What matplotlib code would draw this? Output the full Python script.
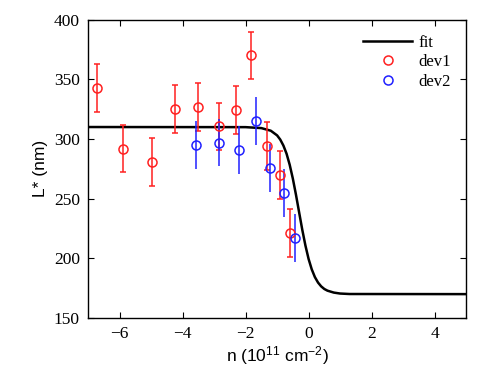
import matplotlib
matplotlib.use("Agg")
import matplotlib.pyplot as plt

plt.rcParams["font.family"] = ["Liberation Serif", "DejaVu Serif"]
plt.rcParams["mathtext.fontset"] = "custom"
plt.rcParams["mathtext.rm"] = "Liberation Sans"
plt.rcParams["mathtext.it"] = "Liberation Sans:italic"

# Fit curve
fit_n = [-7.0, -2.0, -1.5, -1.2, -1.0, -0.9, -0.8, -0.7, -0.6, -0.5, -0.4, -0.3,
         -0.2, -0.1, 0.0, 0.1, 0.2, 0.3, 0.4, 0.5, 0.6, 0.8, 1.0, 1.3, 5.0]
fit_L = [310.0, 309.9, 309.1, 306.9, 303.0, 299.5, 294.5, 287.7, 278.4, 266.8, 253.2, 238.5,
         223.9, 210.7, 199.5, 190.8, 184.3, 179.7, 176.5, 174.3, 172.9, 171.3, 170.5, 170.1, 170.0]

# Device 1
dev1_n = [-6.73, -5.90, -4.98, -4.25, -3.52, -2.86, -2.32, -1.84, -1.33, -0.92, -0.60]
dev1_L = [343, 292, 281, 325, 327, 310.5, 324, 370, 294, 270, 221]
dev1_err = [20] * len(dev1_n)

# Device 2
dev2_n = [-3.59, -2.83, -2.22, -1.68, -1.21, -0.79, -0.44]
dev2_L = [295, 297, 291, 315, 275.5, 255, 217]
dev2_err = [20] * len(dev2_n)

fig = plt.figure(figsize=(4.9, 3.77), dpi=100)
ax = fig.add_axes([0.18, 0.1565, 0.771, 0.7915])

# Plotting the data
ax.plot(fit_n, fit_L, color="black", lw=1.8, label="fit")
ax.errorbar(dev1_n, dev1_L, yerr=dev1_err, fmt="none", ecolor="#ff2020",
            elinewidth=1.1, capsize=2.2, capthick=1.1)
ax.errorbar(dev2_n, dev2_L, yerr=dev2_err, fmt="none", ecolor="#2020ff",
            elinewidth=1.1, capsize=0, capthick=1.1)
ax.plot(dev1_n, dev1_L, "o", mfc="none", mec="#ff2020", ms=6.5, mew=1.1, label="dev1")
ax.plot(dev2_n, dev2_L, "o", mfc="none", mec="#2020ff", ms=6.5, mew=1.1, label="dev2")

# Axes setup
ax.set_xlim(-7, 5)
ax.set_ylim(150, 400)
ax.set_xticks([-6, -4, -2, 0, 2, 4])
ax.set_yticks([150, 200, 250, 300, 350, 400])
ax.tick_params(direction="in", top=True, right=True, length=4, width=0.8, pad=6,
               labelsize=12.5)
for sp in ax.spines.values():
    sp.set_linewidth(1.0)

ax.set_xlabel("n (10$^{11}$ cm$^{-2}$)", family="Liberation Sans", fontsize=12.5, labelpad=1)
ax.set_ylabel("L* (nm)", family="Liberation Sans", fontsize=12.5, labelpad=4)

# Legend
ax.legend(loc="upper right", frameon=False, prop={"family": "Liberation Serif", "size": 12},
          handlelength=2.9, labelspacing=0.22, borderaxespad=0.5, handletextpad=0.4)

fig.savefig("out.png", dpi=100)
